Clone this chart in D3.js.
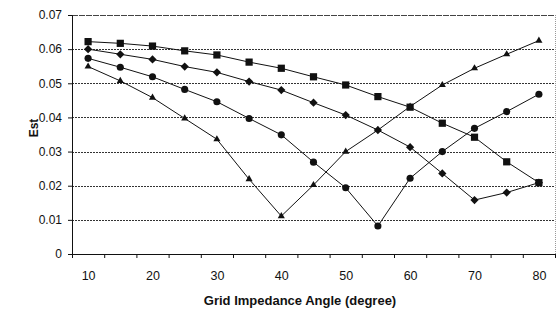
<!DOCTYPE html>
<html>
<head>
<meta charset="utf-8">
<script src="https://cdn.jsdelivr.net/npm/d3@7"></script>
<style>
  body { margin: 0; background: #fff; }
  svg { font-family: "Liberation Sans", Arial, sans-serif; }
</style>
</head>
<body>
<div id="chart"></div>
<script>
var width = 560
var height = 311

var margin = {
    top: 15,
    bottom: 57,
    left: 72,
    right: 5
}

// categories on the x axis (degrees)
var angles = [10, 15, 20, 25, 30, 35, 40, 45, 50, 55, 60, 65, 70, 75, 80]
var xLabels = [10, 20, 30, 40, 50, 60, 70, 80]
var yTicks = [0, 0.01, 0.02, 0.03, 0.04, 0.05, 0.06, 0.07]

// series values
var squareVals   = [0.0622, 0.0617, 0.0609, 0.0595, 0.0583, 0.0562, 0.0544, 0.0519, 0.0495, 0.0461, 0.0430, 0.0383, 0.0342, 0.0270, 0.0209]
var diamondVals  = [0.0600, 0.0585, 0.0570, 0.0549, 0.0532, 0.0505, 0.0480, 0.0443, 0.0407, 0.0363, 0.0313, 0.0236, 0.0158, 0.0180, 0.0209]
var circleVals   = [0.0573, 0.0547, 0.0519, 0.0482, 0.0446, 0.0397, 0.0349, 0.0269, 0.0194, 0.0082, 0.0222, 0.0300, 0.0368, 0.0417, 0.0468]
var triangleVals = [0.0549, 0.0507, 0.0458, 0.0397, 0.0336, 0.0219, 0.0111, 0.0202, 0.0300, 0.0363, 0.0432, 0.0495, 0.0544, 0.0585, 0.0625]

var series = [
    {name: "square", values: squareVals, symbol: d3.symbolSquare, size: 52, rot: 0},
    {name: "diamond", values: diamondVals, symbol: d3.symbolSquare, size: 34, rot: 45},
    {name: "circle", values: circleVals, symbol: d3.symbolCircle, size: 40, rot: 0},
    {name: "triangle", values: triangleVals, symbol: d3.symbolTriangle, size: 22, rot: 0}
]

var svg = d3.select("#chart").append("svg")
    .attr("width", width)
    .attr("height", height)

var x = d3.scaleLinear().domain([7.5, 82.5]).range([margin.left, width - margin.right])
var y = d3.scaleLinear().domain([0, 0.07]).range([height - margin.bottom, margin.top])

// gridlines
svg.append("g").selectAll("line")
    .data(yTicks.slice(1))
    .enter()
    .append("line")
    .attr("x1", margin.left)
    .attr("x2", width - margin.right)
    .attr("y1", function(d) { return Math.round(y(d)) + 0.5 })
    .attr("y2", function(d) { return Math.round(y(d)) + 0.5 })
    .attr("stroke", function(d) { return d == 0.07 ? "#444" : "#333" })
    .attr("stroke-dasharray", function(d) { return d == 0.07 ? "6,1" : "2,1" })
    .attr("stroke-width", 1)

// right border
svg.append("line")
    .attr("x1", width - margin.right + 0.5)
    .attr("x2", width - margin.right + 0.5)
    .attr("y1", margin.top)
    .attr("y2", height - margin.bottom)
    .attr("stroke", "#999")
    .attr("stroke-dasharray", "1,1")

// y axis
var yAxis = svg.append("g")
    .attr("transform", "translate(" + margin.left + ",0)")
    .call(d3.axisLeft(y).tickValues(yTicks).tickSize(4).tickPadding(6)
        .tickFormat(function(d) { return d == 0 ? "0" : d3.format(".2f")(d) }))
yAxis.select(".domain").attr("stroke", "#111")
yAxis.selectAll(".tick line").attr("stroke", "#111")
yAxis.selectAll("text").attr("font-size", 12).attr("fill", "#111")
    .attr("font-family", "Liberation Sans, Arial, sans-serif")

// x axis: tick marks at category boundaries
var boundaries = d3.range(0, angles.length + 1).map(function(i) { return 7.5 + i * 5 })
var xAxis = svg.append("g")
    .attr("transform", "translate(0," + (height - margin.bottom) + ")")
    .call(d3.axisBottom(x).tickValues(boundaries).tickSize(4).tickFormat(""))
xAxis.select(".domain").attr("stroke", "#111")
xAxis.selectAll(".tick line").attr("stroke", "#111")

// x labels at every other category
var xLab = svg.append("g")
    .attr("transform", "translate(0," + (height - margin.bottom) + ")")
    .call(d3.axisBottom(x).tickValues(xLabels).tickSize(0).tickPadding(17))
xLab.select(".domain").remove()
xLab.selectAll("text").attr("font-size", 12.5).attr("fill", "#111")
    .attr("font-family", "Liberation Sans, Arial, sans-serif")

// axis titles
svg.append("text")
    .attr("x", 300)
    .attr("y", 305)
    .attr("text-anchor", "middle")
    .attr("font-size", 13)
    .attr("font-weight", "bold")
    .attr("fill", "#111")
    .text("Grid Impedance Angle (degree)")

svg.append("text")
    .attr("transform", "translate(37.5,128) rotate(-90)")
    .attr("text-anchor", "middle")
    .attr("font-size", 12)
    .attr("font-weight", "bold")
    .attr("fill", "#111")
    .text("Est")

// lines and markers
var line = d3.line()
    .x(function(d, i) { return x(angles[i]) })
    .y(function(d) { return y(d) })

series.forEach(function(s) {
    svg.append("path")
        .datum(s.values)
        .attr("d", line)
        .attr("fill", "none")
        .attr("stroke", "#111")
        .attr("stroke-width", 1)

    svg.append("g").selectAll("path")
        .data(s.values)
        .enter()
        .append("path")
        .attr("transform", function(d, i) {
            return "translate(" + x(angles[i]) + "," + y(d) + ") rotate(" + s.rot + ")"
        })
        .attr("d", d3.symbol().type(s.symbol).size(s.size))
        .attr("fill", "#111")
})
</script>
</body>
</html>
